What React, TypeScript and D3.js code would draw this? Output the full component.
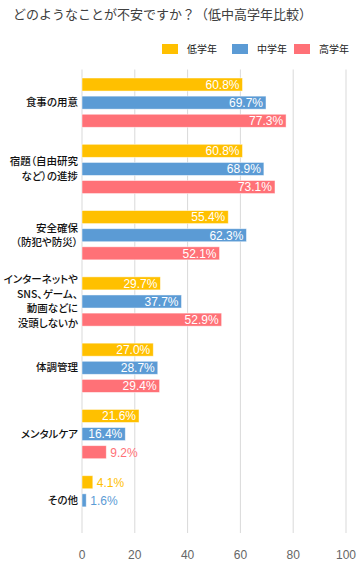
import React, { useEffect, useRef } from 'react';
import * as d3 from 'd3';

// categories (each entry = label lines)
const categories: string[][] = [
  ['食事の用意'],
  ['宿題（自由研究', 'など）の進捗'],
  ['安全確保', '（防犯や防災）'],
  ['インターネットや', 'SNS、ゲーム、', '動画などに', '没頭しないか'],
  ['体調管理'],
  ['メンタルケア'],
  ['その他'],
];

const seriesNames = ['低学年', '中学年', '高学年'];
const seriesColors = ['#FFC000', '#5B9BD5', '#FF7177'];

const lowGrade = [60.8, 60.8, 55.4, 29.7, 27.0, 21.6, 4.1];
const midGrade = [69.7, 68.9, 62.3, 37.7, 28.7, 16.4, 1.6];
const highGrade: (number | null)[] = [77.3, 73.1, 52.1, 52.9, 29.4, 9.2, null];

const xTicks = [0, 20, 40, 60, 80, 100];

const App = () => {
  const chartRef = useRef<SVGSVGElement>(null);

  useEffect(() => {
    const width = 363;
    const height = 569;
    const svg = d3.select(chartRef.current);
    svg.selectAll('*').remove();

    const font = '"Liberation Sans", Arial, "Noto Sans CJK JP", sans-serif';
    const jpFont = '"Noto Sans CJK JP", sans-serif';

    const x = d3.scaleLinear().domain([0, 100]).range([82, 346]);
    const y = d3.scaleBand<number>()
      .domain(categories.map((_, i) => i))
      .range([69.5, 533.5]);
    const yInner = d3.scaleBand<number>()
      .domain([0, 1, 2])
      .range([8.5, y.bandwidth() - 8.5])
      .paddingInner(0.28);

    // title
    svg.append('text')
      .attr('x', 13)
      .attr('y', 19)
      .style('font-family', jpFont)
      .style('font-size', '13px')
      .style('fill', '#404040')
      .text('どのようなことが不安ですか？（低中高学年比較）');

    // legend
    const legendX = [162, 232, 294];
    seriesNames.forEach((name, i) => {
      svg.append('rect')
        .attr('x', legendX[i])
        .attr('y', 44)
        .attr('width', 16)
        .attr('height', 10)
        .style('fill', seriesColors[i]);
      svg.append('text')
        .attr('x', legendX[i] + 25)
        .attr('y', 49)
        .attr('dy', '0.35em')
        .style('font-family', jpFont)
        .style('font-size', '10px')
        .style('fill', '#222')
        .text(name);
    });

    // grid lines
    svg.append('g')
      .selectAll('line')
      .data(xTicks)
      .enter()
      .append('line')
      .attr('x1', d => x(d))
      .attr('x2', d => x(d))
      .attr('y1', 69.5)
      .attr('y2', 533)
      .style('stroke', '#d9d9d9')
      .style('stroke-width', 1);

    // x tick labels
    svg.append('g')
      .selectAll('text')
      .data(xTicks)
      .enter()
      .append('text')
      .attr('x', d => x(d))
      .attr('y', 555)
      .attr('dy', '0.35em')
      .attr('text-anchor', 'middle')
      .style('font-family', font)
      .style('font-size', '12px')
      .style('fill', '#666')
      .text(d => d);

    // bars
    const series = [lowGrade, midGrade, highGrade];
    series.forEach((values, s) => {
      values.forEach((v, i) => {
        if (v === null) return;
        const by = (y(i) as number) + (yInner(s) as number);
        const bh = yInner.bandwidth();
        const bw = x(v) - x(0);
        svg.append('rect')
          .attr('x', x(0))
          .attr('y', by)
          .attr('width', bw)
          .attr('height', bh)
          .style('fill', seriesColors[s])
          .style('stroke', 'rgba(255,255,255,0.6)')
          .style('stroke-width', 0.8);
        const inside = v > 12;
        svg.append('text')
          .attr('x', inside ? x(v) - 3 : x(v) + 4)
          .attr('y', by + bh / 2)
          .attr('dy', '0.36em')
          .attr('text-anchor', inside ? 'end' : 'start')
          .style('font-family', font)
          .style('font-size', '12px')
          .style('fill', inside ? '#fff' : seriesColors[s])
          .text(v.toFixed(1) + '%');
      });
    });

    // category labels
    categories.forEach((lines, i) => {
      const cy = (y(i) as number) + y.bandwidth() / 2;
      const lh = 14.5;
      const t = svg.append('text')
        .attr('text-anchor', 'end')
        .style('font-family', jpFont)
        .style('font-size', '10.5px')
        .style('font-weight', 500)
        .style('font-feature-settings', '"palt"')
        .style('fill', '#111');
      lines.forEach((line, j) => {
        t.append('tspan')
          .attr('x', 78)
          .attr('y', cy + (j - (lines.length - 1) / 2) * lh)
          .attr('dy', '0.35em')
          .text(line);
      });
    });

    svg.attr('width', width).attr('height', height);
  }, []);

  return (
    <svg
      ref={chartRef}
      width={363}
      height={569}
      style={{ position: 'absolute', left: 0, top: 0, background: '#fff' }}
    />
  );
};

export default App;
